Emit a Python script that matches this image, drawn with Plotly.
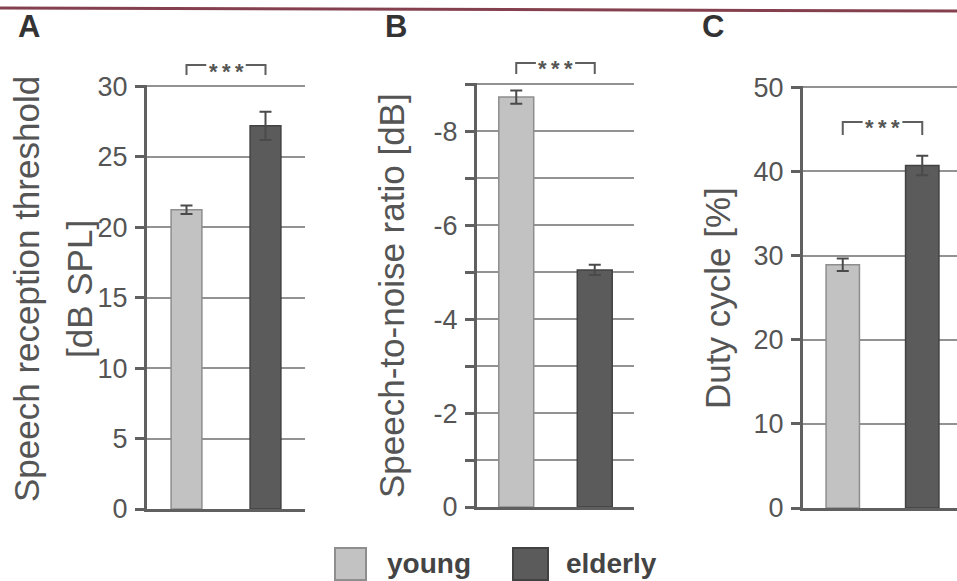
import plotly.graph_objects as go

# ---------------- data ----------------
groups = ["young", "elderly"]
srt_mean = [21.25, 27.2]      # Speech reception threshold [dB SPL]
srt_err = [0.3, 1.0]
snr_mean = [-8.73, -5.05]     # Speech-to-noise ratio [dB]
snr_err = [0.14, 0.11]
duty_mean = [28.9, 40.7]      # Duty cycle [%]
duty_err = [0.75, 1.15]

srt_ticks = [0, 5, 10, 15, 20, 25, 30]
snr_ticks = [-9, -8, -7, -6, -5, -4, -3, -2, -1, 0]
snr_ticktext = ["", "-8", "", "-6", "", "-4", "", "-2", "", "0"]
duty_ticks = [0, 10, 20, 30, 40, 50]

panel_letters = ["A", "B", "C"]
ytitles = [["Speech reception threshold", "[dB SPL]"],
           ["Speech-to-noise ratio [dB]"],
           ["Duty cycle [%]"]]
sig_label = "*&#8201;*&#8201;*"

# ---------------- style ----------------
W, H = 957, 581
FONT = "Liberation Sans, Arial, sans-serif"
bar_fill = ["#c2c2c2", "#5b5b5b"]
bar_edge = ["#8e8e8e", "#424242"]
axis_col = "#606060"
grid_col = "#929292"
text_col = "#555555"


def px(x):
    return x / W


def py(y):
    return 1 - y / H


fig = go.Figure()

panels = [
    dict(mean=srt_mean, err=srt_err, xdom=(147, 305), ydom=(509, 85), xr=[0.5, 2.5],
         yr=[0, 30.1], tv=srt_ticks, tt=[str(t) for t in srt_ticks], bw=0.39,
         br_top=65, br_leg=75),
    dict(mean=snr_mean, err=snr_err, xdom=(477, 634), ydom=(507, 83), xr=[0.5, 2.5],
         yr=[0, -9.03], tv=snr_ticks, tt=snr_ticktext, bw=0.445,
         br_top=63, br_leg=74),
    dict(mean=duty_mean, err=duty_err, xdom=(803, 957), ydom=(508, 86), xr=[0.5, 0.5 + 154 / 79.5],
         yr=[0, 50.15], tv=duty_ticks, tt=[str(t) for t in duty_ticks], bw=0.42,
         br_top=122, br_leg=135),
]

shapes = []
annotations = []

for i, p in enumerate(panels):
    xa = "x" if i == 0 else f"x{i+1}"
    ya = "y" if i == 0 else f"y{i+1}"
    for g in range(2):
        fig.add_trace(go.Bar(
            x=[g + 1], y=[p["mean"][g]], width=p["bw"], name=groups[g],
            marker=dict(color=bar_fill[g], line=dict(color=bar_edge[g], width=1.5)),
            error_y=dict(type="data", array=[p["err"][g]], color="#4a4a4a",
                         thickness=2, width=6),
            xaxis=xa, yaxis=ya, showlegend=False,
        ))
    xkey = "xaxis" if i == 0 else f"xaxis{i+1}"
    ykey = "yaxis" if i == 0 else f"yaxis{i+1}"
    fig.layout[xkey] = dict(
        domain=[px(p["xdom"][0]), px(p["xdom"][1])], range=p["xr"], anchor=ya,
        showline=True, linecolor=axis_col, linewidth=3, showgrid=False,
        zeroline=False, showticklabels=False, ticks="", fixedrange=True,
        automargin=False,
    )
    fig.layout[ykey] = dict(
        domain=[py(p["ydom"][0]), py(p["ydom"][1])], range=p["yr"], anchor=xa,
        tickmode="array", tickvals=p["tv"], ticktext=p["tt"],
        showline=True, linecolor=axis_col, linewidth=3,
        showgrid=True, gridcolor=grid_col, gridwidth=1.8, zeroline=False,
        ticks="outside", ticklen=9, tickwidth=2.5, tickcolor=axis_col,
        ticklabelstandoff=2, automargin=False,
        tickfont=dict(family=FONT, size=27, color=text_col),
    )
    # significance bracket (x in data units, y in pixels)
    yt, yl = py(p["br_top"]), py(p["br_leg"])
    shapes.append(dict(type="path", xref=xa, yref="paper",
                       path=f"M 1,{yl} L 1,{yt} L 1.25,{yt}",
                       line=dict(color="#5e5e5e", width=2)))
    shapes.append(dict(type="path", xref=xa, yref="paper",
                       path=f"M 1.75,{yt} L 2,{yt} L 2,{yl}",
                       line=dict(color="#5e5e5e", width=2)))
    annotations.append(dict(x=1.5, xref=xa, y=py(p["br_top"] + 6), yref="paper",
                            text=f"<b>{sig_label}</b>", showarrow=False, xanchor="center",
                            yanchor="middle",
                            font=dict(family=FONT, size=22, color="#555555")))

# y-axis titles
title_pos = [[(26, 289), (79, 289)], [(391, 296)], [(717, 298)]]
for lines, poss in zip(ytitles, title_pos):
    for t, (x, y) in zip(lines, poss):
        annotations.append(dict(x=px(x), y=py(y), xref="paper", yref="paper",
                                text=t, textangle=-90, showarrow=False,
                                xanchor="center", yanchor="middle",
                                font=dict(family=FONT, size=35, color=text_col)))

# panel letters
for letter, x in zip(panel_letters, [29, 396, 713]):
    annotations.append(dict(x=px(x), y=py(27), xref="paper", yref="paper",
                            text=f"<b>{letter}</b>", showarrow=False,
                            xanchor="center", yanchor="middle",
                            font=dict(family=FONT, size=31, color="#333333")))

# legend (drawn manually)
legend_boxes = [(335, 366), (513, 548)]
legend_text_x = [385, 564]
for g in range(2):
    x0, x1 = legend_boxes[g]
    shapes.append(dict(type="rect", xref="paper", yref="paper",
                       x0=px(x0), x1=px(x1), y0=py(580), y1=py(548),
                       fillcolor=bar_fill[g], line=dict(color=bar_edge[g], width=2)))
    annotations.append(dict(x=px(legend_text_x[g]), y=0.0, xref="paper", yref="paper",
                            text=f"<b>{groups[g]}</b>", showarrow=False,
                            xanchor="left", yanchor="bottom",
                            font=dict(family=FONT, size=28, color="#444444")))

# top border line
shapes.append(dict(type="line", xref="paper", yref="paper",
                   x0=0, x1=1, y0=py(8), y1=py(11),
                   line=dict(color="#84404e", width=3)))

fig.update_layout(
    width=W, height=H,
    margin=dict(l=0, r=0, t=0, b=0, pad=0, autoexpand=False),
    paper_bgcolor="white", plot_bgcolor="white",
    shapes=shapes, annotations=annotations, barmode="overlay",
    font=dict(family=FONT), showlegend=False,
)

post = ("var de=document.documentElement, b=document.body;"
        "de.style.margin='0';de.style.padding='0';de.style.overflow='hidden';"
        "b.style.margin='0';b.style.padding='0';b.style.overflow='hidden';")

fig.write_html("out.html", post_script=post, config={"displayModeBar": False})
